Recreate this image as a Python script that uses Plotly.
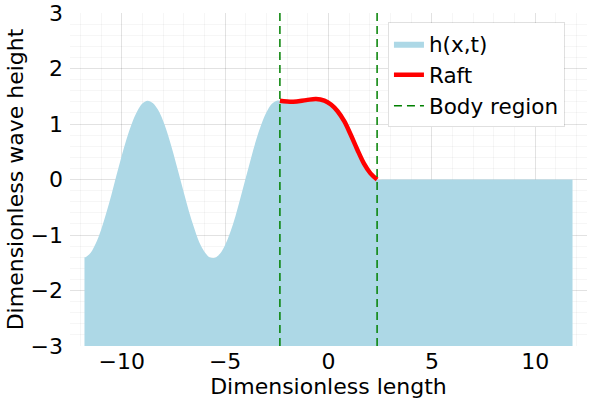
import plotly.graph_objects as go

# Wave height h(x,t) (upstream wave train)
wave_x = [-11.8, -11.75, -11.5, -11.25, -11.0, -10.75, -10.5, -10.25, -10.0, -9.75,
          -9.5, -9.25, -9.0, -8.75, -8.5, -8.25, -8.0, -7.75, -7.5, -7.25,
          -7.0, -6.75, -6.5, -6.25, -6.0, -5.75, -5.5, -5.25, -5.0, -4.75,
          -4.5, -4.25, -4.0, -3.75, -3.5, -3.25, -3.0, -2.75, -2.5]
wave_h = [-1.40, -1.40, -1.32, -1.15, -0.91, -0.61, -0.28, 0.08, 0.43, 0.75,
          1.02, 1.23, 1.37, 1.42, 1.38, 1.26, 1.06, 0.79, 0.47, 0.12,
          -0.23, -0.57, -0.87, -1.13, -1.30, -1.40, -1.41, -1.34, -1.18, -0.95,
          -0.66, -0.32, 0.03, 0.38, 0.71, 0.99, 1.21, 1.36, 1.42]

# Raft shape (body region)
raft_x = [-2.35, -1.71, -1.08, -0.60, -0.20, 0.12, 0.44, 0.76, 1.07, 1.39, 1.71, 2.03, 2.35]
raft_h = [1.42, 1.40, 1.43, 1.45, 1.42, 1.35, 1.23, 1.05, 0.81, 0.54, 0.29, 0.11, 0.0]

# Flat, undisturbed water downstream
flat_x = [2.6, 3.5, 5.0, 7.0, 9.0, 11.8]
flat_h = [0.0, 0.0, 0.0, 0.0, 0.0, 0.0]

body_x = [-2.35, 2.35]
x_range = [-12.5, 12.5]
y_range = [-3, 3]
x_ticks = [-10, -5, 0, 5, 10]
y_ticks = [-3, -2, -1, 0, 1, 2, 3]

all_x = wave_x + raft_x + flat_x
all_h = wave_h + raft_h + flat_h

FONT = "DejaVu Sans"
FS = 22


def lab(t):
    return "\u2212" + str(-t) if t < 0 else str(t)


fig = go.Figure()
fig.add_trace(go.Scatter(x=[all_x[0], all_x[-1]], y=[y_range[0], y_range[0]],
                         mode="lines", line=dict(width=0), showlegend=False,
                         hoverinfo="skip"))
fig.add_trace(go.Scatter(x=all_x, y=all_h, mode="lines", name="h(x,t)",
                         fill="tonexty", fillcolor="#ADD8E6",
                         line=dict(width=0, color="#ADD8E6", shape="spline", smoothing=1)))
fig.add_trace(go.Scatter(x=raft_x, y=raft_h, mode="lines", name="Raft",
                         line=dict(width=4.5, color="#FF0000", shape="spline", smoothing=1)))
bx, by = [], []
for b in body_x:
    bx += [b, b, None]
    by += [y_range[0], y_range[1], None]
fig.add_trace(go.Scatter(x=bx, y=by, mode="lines", name="Body region",
                         line=dict(width=1.5, color="#008000", dash="8px,5px")))

axis_common = dict(showline=False, zeroline=False, ticks="", automargin=False,
                   gridcolor="rgba(0,0,0,0.08)", gridwidth=1,
                   tickfont=dict(family=FONT, size=FS, color="black"))
fig.update_xaxes(range=x_range, tickvals=x_ticks, ticktext=[lab(t) for t in x_ticks],
                 minor=dict(dtick=1, showgrid=True, gridcolor="rgba(0,0,0,0.035)"),
                 title=dict(text="Dimensionless length", font=dict(family=FONT, size=FS, color="black"), standoff=0),
                 **axis_common)
fig.update_yaxes(range=y_range, tickvals=y_ticks, ticktext=[lab(t) for t in y_ticks],
                 minor=dict(dtick=0.2, showgrid=True, gridcolor="rgba(0,0,0,0.035)"),
                 ticklabelstandoff=6,
                 title=dict(text="Dimensionless wave height", font=dict(family=FONT, size=FS, color="black"), standoff=0),
                 **axis_common)

fig.update_layout(
    width=600, height=400,
    margin=dict(l=70, r=13, t=13, b=54),
    plot_bgcolor="white", paper_bgcolor="white",
    font=dict(family=FONT, size=FS, color="black"),
    legend=dict(x=0.615, y=0.972, xanchor="left", yanchor="top", traceorder="normal",
                bgcolor="white", bordercolor="rgba(0,0,0,0.12)", borderwidth=1,
                font=dict(family=FONT, size=21.5, color="black"),
                tracegroupgap=0, itemwidth=30),
    showlegend=True,
)

fig.write_html("out.html", config={"displayModeBar": False},
               post_script="document.body.style.margin='0';document.body.style.overflow='hidden';")
